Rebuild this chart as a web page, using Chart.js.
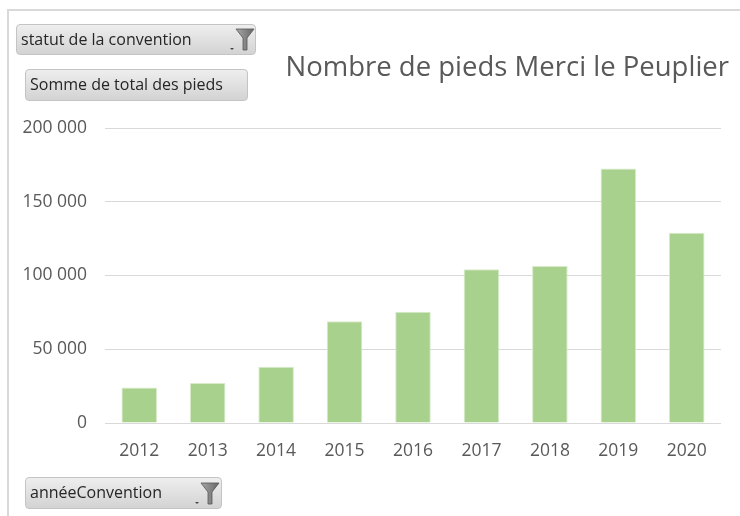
<!DOCTYPE html>
<html>
<head>
<meta charset="utf-8">
<script src="https://cdn.jsdelivr.net/npm/chart.js@4/dist/chart.umd.min.js"></script>
<style>
  html, body { margin:0; padding:0; background:#fff; }
  #wrap { position:relative; width:740px; height:516px; overflow:hidden; background:#fff; }
  #frame { position:absolute; left:7px; top:9px; width:900px; height:700px; border:2px solid #d9d9d9; box-sizing:border-box; }
  canvas { position:absolute; left:0; top:0; }
  .btn { position:absolute; box-sizing:border-box; border:1px solid #c4c4c4; border-radius:4px;
         background:linear-gradient(#eeeeee, #d3d3d3); font:16px "Open Sans", sans-serif; color:#262626;
         padding-left:4px; white-space:nowrap; }
  .btn span { position:absolute; left:4px; top:50%; transform:translateY(-53%); }
  .btn svg { position:absolute; }
</style>
</head>
<body>
<div id="wrap">
  <div id="frame"></div>
  <canvas id="c" width="740" height="516"></canvas>
  <div class="btn" style="left:16px;top:24px;width:240px;height:31px;"><span>statut de la convention</span>
    <svg style="left:210px;top:2px" width="28" height="26" viewBox="0 0 28 26">
      <defs><linearGradient id="g1" x1="0" x2="1"><stop offset="0" stop-color="#a8a8a8"/><stop offset="1" stop-color="#666"/></linearGradient></defs>
      <polygon points="3,21 7,21 5,23" fill="#444"/>
      <polygon points="9,2 27,2 20,11 20,23 16,23 16,11" fill="url(#g1)" stroke="#555" stroke-width="0.8"/>
    </svg>
  </div>
  <div class="btn" style="left:25px;top:69px;width:223px;height:32px;"><span>Somme de total des pieds</span></div>
  <div class="btn" style="left:25px;top:477px;width:197px;height:32px;"><span>annéeConvention</span>
    <svg style="left:166px;top:3px" width="28" height="26" viewBox="0 0 28 26">
      <defs><linearGradient id="g2" x1="0" x2="1"><stop offset="0" stop-color="#a8a8a8"/><stop offset="1" stop-color="#666"/></linearGradient></defs>
      <polygon points="3,21 7,21 5,23" fill="#444"/>
      <polygon points="9,2 27,2 20,11 20,23 16,23 16,11" fill="url(#g2)" stroke="#555" stroke-width="0.8"/>
    </svg>
  </div>
</div>
<script>
const chartTitle = "Nombre de pieds Merci le Peuplier";
const years = ["2012","2013","2014","2015","2016","2017","2018","2019","2020"];
const pieds = [24100, 27200, 38200, 68900, 75400, 104300, 106400, 172600, 128900];
const yMax = 200000;
const yStep = 50000;

const titlePlugin = {
  id: 'rightTitle',
  afterDraw(chart) {
    const ctx = chart.ctx;
    ctx.save();
    ctx.font = '27.5px "Open Sans", sans-serif';
    ctx.fillStyle = '#595959';
    ctx.textAlign = 'right';
    ctx.textBaseline = 'alphabetic';
    ctx.fillText(chartTitle, 729, 76);
    ctx.restore();
  }
};

new Chart(document.getElementById('c'), {
  type: 'bar',
  data: {
    labels: years,
    datasets: [{
      label: 'Somme de total des pieds',
      data: pieds,
      backgroundColor: '#a9d18e',
      borderColor: '#d7ebc9',
      borderWidth: 1,
      categoryPercentage: 1,
      barPercentage: 0.52
    }]
  },
  options: {
    responsive: false,
    animation: false,
    devicePixelRatio: 1,
    layout: { padding: { top: 128, left: 0, right: 19, bottom: 0 } },
    plugins: { legend: { display: false }, title: { display: false }, tooltip: { enabled: false } },
    scales: {
      x: {
        grid: { display: false, drawTicks: false },
        border: { display: false },
        ticks: { color: '#595959', font: { family: 'Open Sans', size: 17.5 }, padding: 18 },
        afterFit(s) { s.height = 93; }
      },
      y: {
        min: 0, max: yMax,
        grid: { color: '#d9d9d9', drawTicks: false, lineWidth: 1 },
        border: { display: false },
        ticks: {
          stepSize: yStep,
          color: '#595959',
          font: { family: 'Open Sans', size: 17.5 },
          padding: 18,
          callback: v => String(v).replace(/\B(?=(\d{3})+(?!\d))/g, ' ')
        },
        afterFit(s) { s.width = 105; }
      }
    }
  },
  plugins: [titlePlugin]
});
</script>
</body>
</html>
